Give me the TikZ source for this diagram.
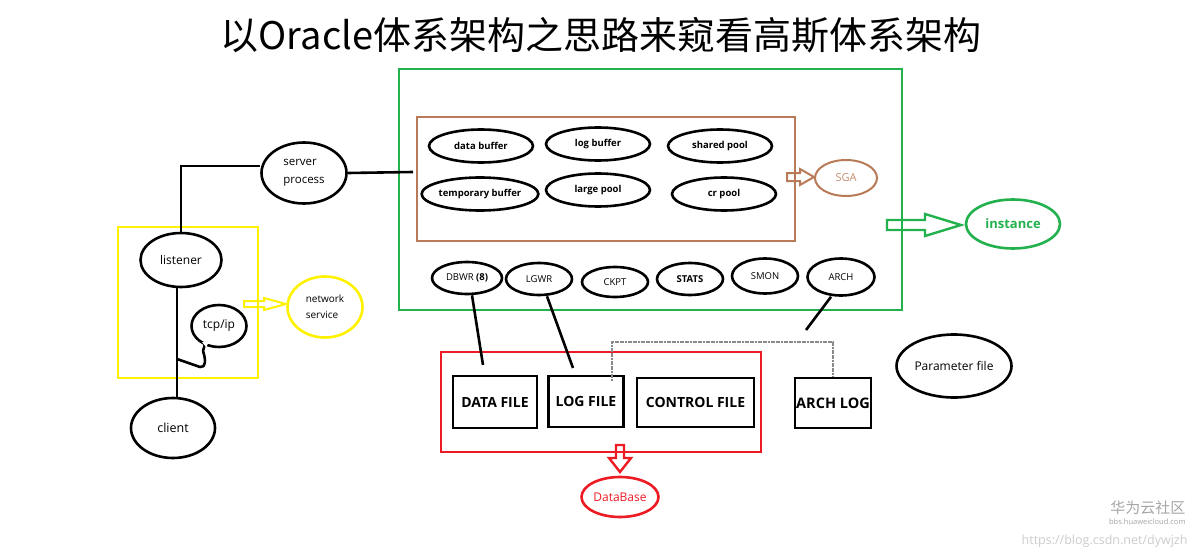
\documentclass[tikz,border=0pt]{standalone}
\usepackage{fontspec}
\setmainfont{Open Sans}
\newfontfamily\cjkfont{Noto Sans CJK SC}
\usetikzlibrary{shapes.geometric}
\definecolor{brownc}{HTML}{B97A57}
\definecolor{greenc}{HTML}{22B14C}
\definecolor{redc}{HTML}{ED1C24}
\definecolor{yellowc}{HTML}{FFF200}
\definecolor{grayc}{HTML}{8A8A8A}
\tikzset{
  ell/.style={draw=black, line width=2.6pt, ellipse, inner sep=0pt},
  poolell/.style={ell, minimum width=104pt, minimum height=33pt, font=\fontsize{9.5}{11}\selectfont\bfseries},
  procell/.style={ell, minimum width=66pt, minimum height=32pt, font=\fontsize{9.5}{11}\selectfont},
  filebox/.style={draw=black, line width=2.6pt, inner sep=0pt, font=\fontsize{14}{16}\selectfont\bfseries},
  conn/.style={line width=2.6pt, black},
  frame/.style={line width=2.6pt},
}
\begin{document}
\begin{tikzpicture}[x=1pt,y=-1pt]
\useasboundingbox (0,0) rectangle (1199,559);
\fill[white] (0,0) rectangle (1199,559);
% title
\node[font=\cjkfont\fontsize{38}{42}\selectfont] (title) at (601,35) {以Oracle体系架构之思路来窥看高斯体系架构};
% frames
\draw[frame, greenc] (399,69) rectangle (902,310);
\draw[frame, brownc] (417,117) rectangle (795,241);
\draw[frame, redc] (441,352) rectangle (761,452);
\draw[frame, yellowc] (118,227) rectangle (258,378);
% pools
\node[poolell] (databuf) at (481,146) {data buffer};
\node[poolell] (logbuf) at (598,144) {log buffer};
\node[poolell] (shpool) at (720,146) {shared pool};
\node[poolell] (tmpbuf) at (480,194) {temporary buffer};
\node[poolell] (lgpool) at (598,190) {large pool};
\node[poolell] (crpool) at (724,194) {cr pool};
% processes
\node[procell, minimum width=70pt] (dbwr) at (467,278) {DBWR \textbf{(8)}};
\node[procell] (lgwr) at (539,279) {LGWR};
\node[procell, minimum height=30pt] (ckpt) at (615,282) {CKPT};
\node[procell, font=\fontsize{9.5}{11}\selectfont\bfseries] (stats) at (690,279) {STATS};
\node[procell, minimum height=35pt] (smon) at (765,276) {SMON};
\node[procell, minimum width=67pt, minimum height=37pt] (arch) at (841,277) {ARCH};
% SGA
\draw[brownc, line width=2pt] (787,173) -- (800,173) -- (800,169) -- (814,177) -- (800,185) -- (800,181) -- (787,181) -- cycle;
\node[ell, draw=brownc, line width=2pt, minimum width=62pt, minimum height=36pt, text=brownc!85, font=\fontsize{11}{12}\selectfont] (sga) at (846,178) {SGA};
% instance
\draw[greenc, line width=2.4pt] (887,220) -- (925,220) -- (925,214) -- (961,225) -- (925,236) -- (925,230) -- (887,230) -- cycle;
\node[ell, draw=greenc, minimum width=94pt, minimum height=49pt, text=greenc, font=\fontsize{13}{15}\selectfont\bfseries] (instance) at (1013,224) {instance};
% files
\node[filebox, minimum width=84pt, minimum height=52pt] (datafile) at (495,402) {DATA FILE};
\node[filebox, minimum width=75pt, minimum height=51pt] (logfile) at (586,401.5) {LOG FILE};
\node[filebox, minimum width=117pt, minimum height=49pt] (ctlfile) at (695.5,402.5) {CONTROL FILE};
\node[filebox, minimum width=76pt, minimum height=50pt, font=\fontsize{14.5}{16}\selectfont\bfseries] (archlog) at (833,403) {ARCH LOG};
% DataBase
\draw[redc, line width=2.4pt] (616,445) -- (624,445) -- (624,458) -- (631,458) -- (620,472) -- (609,458) -- (616,458) -- cycle;
\node[ell, draw=redc, minimum width=77pt, minimum height=40pt, text=redc, font=\fontsize{12}{14}\selectfont] (database) at (620,497) {DataBase};
% parameter file
\node[ell, minimum width=115pt, minimum height=63pt, font=\fontsize{12}{14}\selectfont] (param) at (954,366) {Parameter file};
% connectors process -> files
\coordinate (dfend) at (483,365);
\coordinate (lfend) at (573,368);
\draw[conn] ([xshift=5pt]dbwr.south) -- (dfend);
\draw[conn] ([xshift=8pt]lgwr.south) -- (lfend);
\coordinate (archmid) at (806,330);
\draw[conn] ([xshift=-10pt]arch.south) -- (archmid);
\draw[grayc, line width=1.8pt, dash pattern=on 2pt off 0.6pt] ([xshift=26pt,yshift=-6pt]logfile.north) -- ++(0,-39) -| (archlog.north);
% left part
\node[ell, minimum width=85pt, minimum height=61pt, font=\fontsize{11.5}{18}\selectfont, align=left] (server) at (304,173) {server\\process};
\node[ell, minimum width=81pt, minimum height=54pt, font=\fontsize{12}{14}\selectfont] (listener) at (181,260) {listener};
\node[ell, minimum width=84pt, minimum height=60pt, font=\fontsize{12.5}{14}\selectfont] (client) at (173,428) {client};
\node[ell, minimum width=55pt, minimum height=42pt, font=\fontsize{12}{14}\selectfont] (tcpip) at (219,326) {tcp/ip};
\draw[conn] (server.east) -- (413,172);
\draw[conn] (server.west |- 0,166) -| (listener.north);
\draw[conn] ([xshift=-4pt]listener.south) -- ([xshift=4pt]client.north);
\draw[conn, line join=round] (205,344) -- (203,351) .. controls (206,360) and (206,368) .. (200,367) -- (177,359);
\fill[white] (202,342) -- (209,342) -- (206,347) -- cycle;
% network service
\draw[yellowc, line width=2pt] (244,301) -- (264,301) -- (264,298) -- (286,304) -- (264,310) -- (264,307) -- (244,307) -- cycle;
\node[ell, draw=yellowc, minimum width=75pt, minimum height=61pt, font=\fontsize{10}{16}\selectfont, align=left] (netsvc) at (325,307) {network\\service};
% watermark
\node[text=gray!70, font=\cjkfont\fontsize{15}{16}\selectfont, anchor=east] (wm1) at (1189,508) {华为云社区};
\node[text=gray!70, font=\fontsize{7.5}{8}\selectfont, anchor=east] (wm2) at (1189,522) {bbs.huaweicloud.com};
\node[text=gray!40, font=\fontsize{12.5}{14}\selectfont, anchor=east] (wm3) at (1191,541) {https://blog.csdn.net/dywjzh};
\end{tikzpicture}
\end{document}
